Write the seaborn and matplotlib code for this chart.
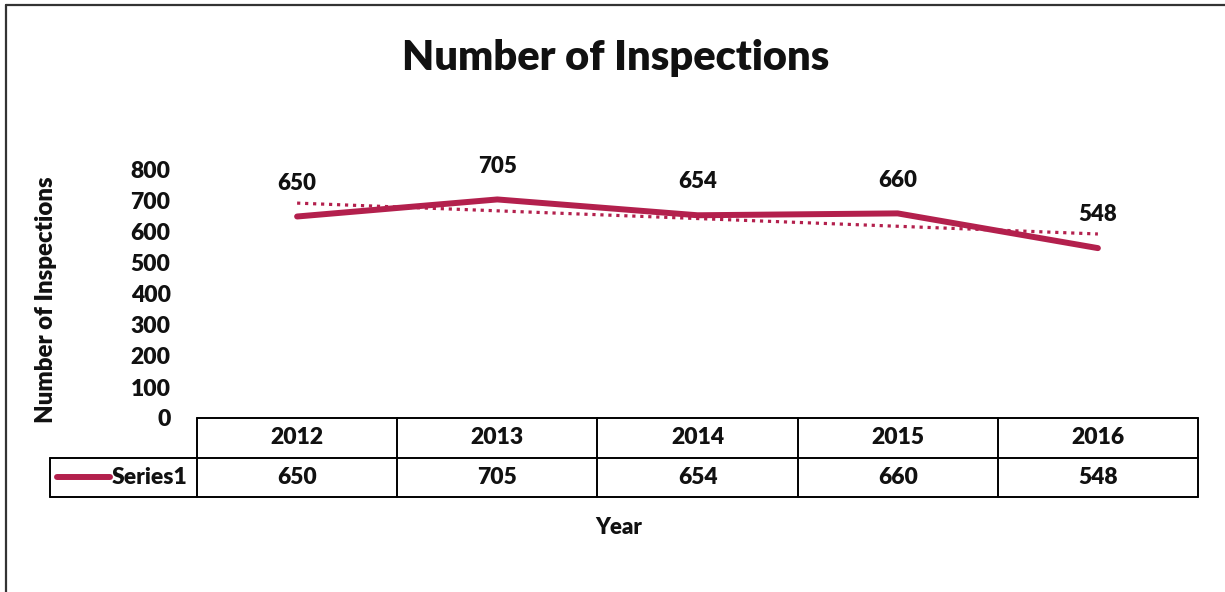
import numpy as np
import pandas as pd
import matplotlib
matplotlib.use('Agg')
import matplotlib.pyplot as plt
import seaborn as sns

# chart data
years = ['2012', '2013', '2014', '2015', '2016']
inspections = [650, 705, 654, 660, 548]
series_name = 'Series1'
y_ticks = [0, 100, 200, 300, 400, 500, 600, 700, 800]

df = pd.DataFrame({'pos': np.arange(len(years)), 'Year': years, 'Inspections': inspections})

sns.set_style('white')
plt.rcParams['font.family'] = ['Lato', 'DejaVu Sans']
plt.rcParams['font.weight'] = 'bold'

line_color = '#B3204D'
text_color = '#111111'
wt = 'heavy'
W, H = 1225, 592
fig = plt.figure(figsize=(W / 100, H / 100), dpi=100)

def px_rect(x0, y0, x1, y1):
    # pixel box (top-left origin) -> figure fraction
    return [x0 / W, 1 - y1 / H, (x1 - x0) / W, (y1 - y0) / H]

ax = fig.add_axes(px_rect(197, 170, 1198, 418))

sns.lineplot(data=df, x='pos', y='Inspections', ax=ax, color=line_color,
             linewidth=4.3, solid_capstyle='round', solid_joinstyle='round')
# linear trendline
sns.regplot(data=df, x='pos', y='Inspections', ax=ax, scatter=False, ci=None,
            truncate=True, line_kws=dict(color=line_color, linestyle=(0, (1, 1.5)),
                                         linewidth=2.3))

for p, v in zip(df['pos'], df['Inspections']):
    ax.annotate(str(v), (p, v), xytext=(0, 24), textcoords='offset points',
                ha='center', va='center', fontsize=16, fontweight=wt, color=text_color)

ax.set_xlim(-0.5, len(years) - 0.5)
ax.set_ylim(0, 800)
ax.set_yticks(y_ticks)
ax.set_yticklabels([str(t) for t in y_ticks], fontsize=16.5, fontweight=wt)
ax.tick_params(axis='y', length=0, pad=19, colors=text_color)
ax.set_xticks([])
ax.set_xlabel('')
ax.set_ylabel('Number of Inspections', fontsize=17.3, fontweight=wt, color=text_color)
ax.yaxis.set_label_coords((57 - 197) / 1001, (418 - 300) / 248)
for s in ax.spines.values():
    s.set_visible(False)

# data table under the plot
label_w = (197 - 50) / 200
x_left = -0.5 - label_w
tab = fig.add_axes(px_rect(50, 418, 1198, 497))
tab.set_xlim(x_left, len(years) - 0.5)
tab.set_ylim(0, 2)
tab.axis('off')
lw = 1.4
tab.plot([-0.5, len(years) - 0.5], [2, 2], color='black', lw=lw, clip_on=False)
tab.plot([x_left, len(years) - 0.5], [1, 1], color='black', lw=lw, clip_on=False)
tab.plot([x_left, len(years) - 0.5], [0, 0], color='black', lw=lw, clip_on=False)
tab.plot([x_left, x_left], [0, 1], color='black', lw=lw, clip_on=False)
for i in range(len(years) + 1):
    tab.plot([i - 0.5, i - 0.5], [0, 2], color='black', lw=lw, clip_on=False)
for i, (yr, v) in enumerate(zip(years, inspections)):
    tab.text(i, 1.5, yr, ha='center', va='center', fontsize=16.5, fontweight=wt, color=text_color)
    tab.text(i, 0.5, str(v), ha='center', va='center', fontsize=16.5, fontweight=wt, color=text_color)
tab.plot([x_left + 0.035, x_left + 0.30], [0.5, 0.5], color=line_color,
         lw=4.3, solid_capstyle='round', clip_on=False)
tab.text(x_left + 0.31, 0.5, series_name, ha='left', va='center',
         fontsize=16.5, fontweight=wt, color=text_color)

fig.text(619 / W, 1 - 527 / H, 'Year', ha='center', va='center', fontsize=16,
         fontweight=wt, color=text_color)
fig.text(616 / W, 1 - 58 / H, 'Number of Inspections', ha='center', va='center',
         fontsize=30, fontweight=wt, color=text_color)

# outer chart frame
fig.add_artist(plt.Line2D([6 / W, 6 / W], [0, 1 - 5 / H], color='#333333', lw=1.6))
fig.add_artist(plt.Line2D([6 / W, 1], [1 - 5 / H, 1 - 5 / H], color='#333333', lw=1.6))

fig.savefig('out.png', dpi=100)
